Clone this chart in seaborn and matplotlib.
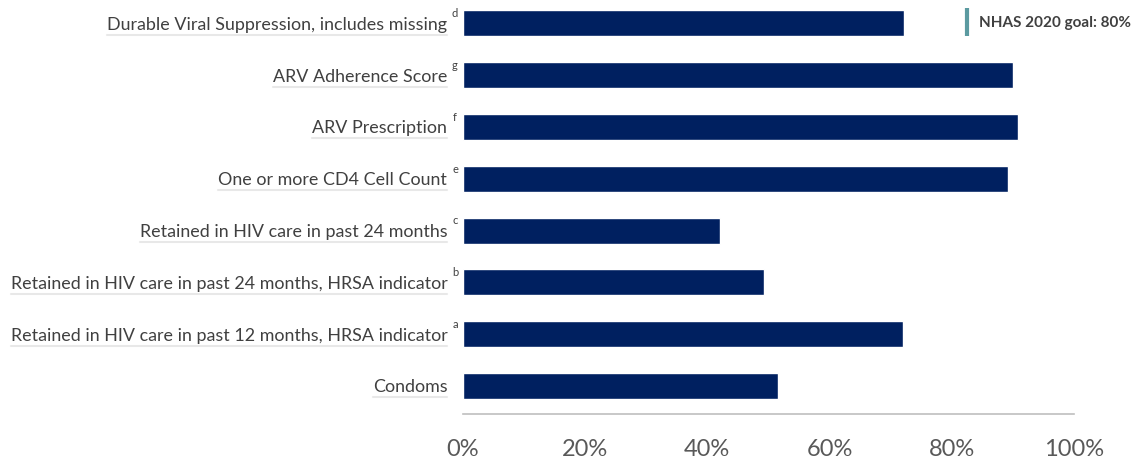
import pandas as pd
import seaborn as sns
import matplotlib.pyplot as plt
from matplotlib.lines import Line2D

# Данные диаграммы
categories = [
    "Durable Viral Suppression, includes missing",
    "ARV Adherence Score",
    "ARV Prescription",
    "One or more CD4 Cell Count",
    "Retained in HIV care in past 24 months",
    "Retained in HIV care in past 24 months, HRSA indicator",
    "Retained in HIV care in past 12 months, HRSA indicator",
    "Condoms",
]
values = [72.1, 90.0, 90.7, 89.1, 42.0, 49.2, 71.9, 51.6]
notes = ["d", "g", "f", "e", "c", "b", "a", ""]
ticks = [0, 20, 40, 60, 80, 100]
tick_labels = ["0%", "20%", "40%", "60%", "80%", "100%"]
goal_label = "NHAS 2020 goal: 80%"

navy = "#002060"
teal = "#5B9AA0"
text_gray = "#404040"

df = pd.DataFrame({"category": categories, "value": values})

sns.set_style("white")
plt.rcParams["font.family"] = ["Lato", "DejaVu Sans"]

fig = plt.figure(figsize=(11.31, 4.61), dpi=100)
ax = fig.add_axes([0.409, 0.102, 0.541, 0.898])

sns.barplot(data=df, x="value", y="category", color=navy, width=0.5,
            saturation=1, ax=ax, orient="h")

ax.set_xlim(0, 100)
ax.set_ylim(7.54, -0.45)
ax.set_xlabel("")
ax.set_ylabel("")
ax.set_xticks(ticks)
ax.set_xticklabels(tick_labels)

for side in ["top", "right", "left"]:
    ax.spines[side].set_visible(False)
ax.spines["bottom"].set_color("#BFBFBF")
ax.spines["bottom"].set_linewidth(1.2)

ax.tick_params(axis="x", direction="in", length=10, width=1.2, color="#BFBFBF",
               labelsize=17, labelcolor="#595959", pad=18)
ax.tick_params(axis="y", length=0, labelsize=12.9, labelcolor=text_gray, pad=11)

# Надстрочные сноски
for i, n in enumerate(notes):
    if n:
        ax.annotate(n, xy=(0, i), xycoords="data", xytext=(-5.5, 7),
                    textcoords="offset points", ha="center", va="center",
                    fontsize=8, color=text_gray)

# Легенда
handle = Line2D([], [], color=teal, marker="|", markersize=20,
                markeredgewidth=3, linestyle="None")
leg = fig.legend([handle], [goal_label], loc="upper right",
                 bbox_to_anchor=(1.012, 0.995), frameon=False,
                 handlelength=0.6, handletextpad=0.5,
                 prop={"weight": "bold", "size": 11})
for t in leg.get_texts():
    t.set_color(text_gray)

# Светлое подчёркивание под подписями
fig.canvas.draw()
renderer = fig.canvas.get_renderer()
for lab in ax.get_yticklabels():
    bb = lab.get_window_extent(renderer)
    y = bb.y0 - 2
    fig.add_artist(Line2D([bb.x0 / fig.bbox.width, bb.x1 / fig.bbox.width],
                          [y / fig.bbox.height, y / fig.bbox.height],
                          color="#E8E8E8", linewidth=1.5))

plt.savefig("out.png", dpi=100)
